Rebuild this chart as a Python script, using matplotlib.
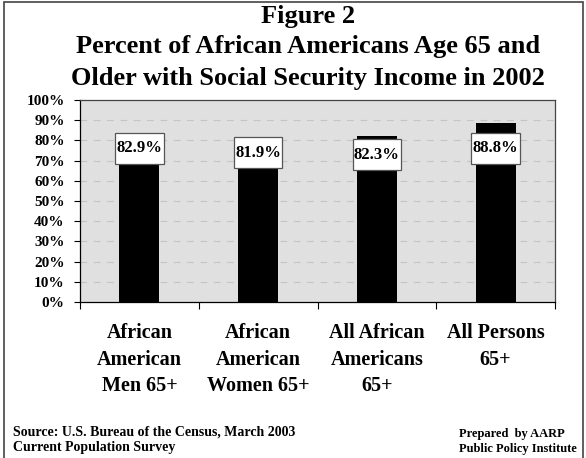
import matplotlib
matplotlib.use("Agg")
import matplotlib.pyplot as plt
from matplotlib.patches import Rectangle

categories = ["African\nAmerican\nMen 65+", "African\nAmerican\nWomen 65+",
              "All African\nAmericans\n65+", "All Persons\n65+"]
values = [82.9, 81.9, 82.3, 88.8]
value_labels = ["82.9%", "81.9%", "82.3%", "88.8%"]
yticks = [0, 10, 20, 30, 40, 50, 60, 70, 80, 90, 100]
ytick_labels = ["0%", "10%", "20%", "30%", "40%", "50%", "60%", "70%", "80%", "90%", "100%"]

# layout
label_offsets = [6.9, 8.1, 9.3, 12.6]
box_w, box_h = 0.41, 15.3
W, H = 586, 458
plt.rcParams['font.family'] = ['Liberation Serif', 'DejaVu Serif']
fig = plt.figure(figsize=(W / 100, H / 100), dpi=100)

# figure border
fig.patches.append(Rectangle((4 / W, -0.02), (583 - 4) / W, 1 - 2 / H + 0.02,
                             transform=fig.transFigure, fill=False,
                             edgecolor="#444444", linewidth=1.2))

ax = fig.add_axes([80 / W, 1 - 302 / H, (555 - 80) / W, (302 - 100) / H])
ax.set_facecolor("#e0e0e0")
x = list(range(len(categories)))
ax.bar(x, values, width=0.337, color="black", zorder=3)
ax.set_xlim(-0.5, len(categories) - 0.5)
ax.set_ylim(0, 100)
for yv in yticks[1:-1]:
    ax.axhline(yv, color="#c4c4c4", linestyle=(0, (6, 6)), linewidth=0.8, zorder=1)

for xi, v, lab, off in zip(x, values, value_labels, label_offsets):
    yc = v - off
    ax.add_patch(Rectangle((xi - box_w / 2, yc - box_h / 2), box_w, box_h,
                           facecolor="white", edgecolor="#555555", linewidth=0.9, zorder=4))
    ax.text(xi, yc, lab, ha="center", va="center", fontsize=12,
            fontweight="bold", zorder=5)

ax.set_yticks(yticks)
ax.set_yticklabels(ytick_labels, fontsize=11, fontweight="bold")
ax.set_xticks([i - 0.5 for i in range(len(categories) + 1)])
ax.set_xticklabels([])
ax.tick_params(axis="x", length=5, direction="out", width=0.8)
ax.tick_params(axis="y", length=4, direction="out", width=0.8, pad=7)
for s in ["left", "bottom"]:
    ax.spines[s].set_color("black")
    ax.spines[s].set_linewidth(0.9)
for s in ["top", "right"]:
    ax.spines[s].set_color("#444444")
    ax.spines[s].set_linewidth(0.9)

for xi, cat in zip(x, categories):
    ax.text(xi, -10.6, cat, ha="center", va="top", fontsize=14.5, fontweight="bold",
            linespacing=1.42)

# titles
tx = 308 / W
fig.text(tx, 1 - 16 / H, "Figure 2", ha="center", va="center", fontsize=19, fontweight="bold")
fig.text(tx, 1 - 47 / H, "Percent of African Americans Age 65 and", ha="center", va="center",
         fontsize=19, fontweight="bold")
fig.text(tx, 1 - 79 / H, "Older with Social Security Income in 2002", ha="center", va="center",
         fontsize=19, fontweight="bold")

# footer
fig.text(13 / W, 1 - 432 / H, "Source: U.S. Bureau of the Census, March 2003", ha="left",
         va="center", fontsize=10, fontweight="bold")
fig.text(13 / W, 1 - 448 / H, "Current Population Survey", ha="left",
         va="center", fontsize=10, fontweight="bold")
fig.text(459 / W, 1 - 434 / H, "Prepared  by AARP", ha="left",
         va="center", fontsize=9, fontweight="bold")
fig.text(459 / W, 1 - 449 / H, "Public Policy Institute", ha="left",
         va="center", fontsize=9, fontweight="bold")

fig.savefig("out.png", dpi=100)
